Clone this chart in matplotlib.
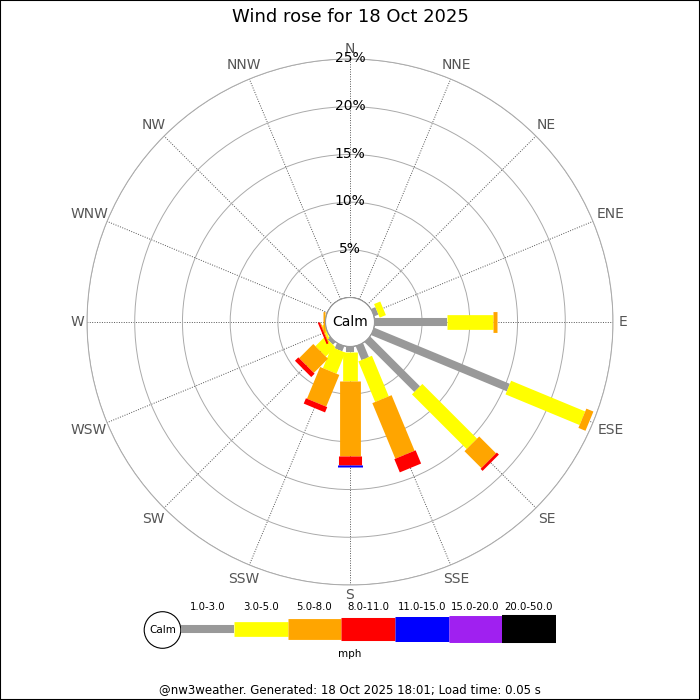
# -*- coding: utf-8 -*-
'''
daily wind rose: stacked speed-class bars per compass direction
'''
import matplotlib
matplotlib.use('Agg')
import matplotlib.pyplot as plt
import numpy as np
from matplotlib.patches import Circle, Rectangle

directions = ['N', 'NNE', 'NE', 'ENE', 'E', 'ESE', 'SE', 'SSE',
              'S', 'SSW', 'SW', 'WSW', 'W', 'WNW', 'NW', 'NNW']
speed_classes = ['1.0-3.0', '3.0-5.0', '5.0-8.0', '8.0-11.0',
                 '11.0-15.0', '15.0-20.0', '20.0-50.0']
class_colors = ['#999999', '#ffff00', '#ffa500', '#ff0000',
                '#0000ff', '#a020f0', '#000000']

# percentage of the day per direction, one list per speed class
pct_1_3 = [0, 0, 0, 0.5, 7.6, 15.4, 7.4, 1.6, 0.6, 0.6, 0.4, 0.1, 0, 0, 0, 0]
pct_3_5 = [0, 0, 0, 0.7, 4.8, 8.4, 8.1, 4.6, 3.0, 2.4, 1.4, 0.2, 0.1, 0, 0, 0]
pct_5_8 = [0, 0, 0, 0, 0.4, 0.8, 2.5, 6.3, 7.9, 3.6, 2.1, 0.1, 0.2, 0, 0, 0]
pct_8_11 = [0, 0, 0, 0, 0, 0, 0.3, 1.5, 0.9, 0.6, 0.5, 0.2, 0, 0, 0, 0]
pct_11_15 = [0, 0, 0, 0, 0, 0, 0, 0, 0.2, 0, 0, 0, 0, 0, 0, 0]
pct_15_20 = [0] * 16
pct_20_50 = [0] * 16
ring_pcts = [5, 10, 15, 20, 25]

title = 'Wind rose for 18 Oct 2025'
footer = '@nw3weather. Generated: 18 Oct 2025 18:01; Load time: 0.05 s'

series = [pct_1_3, pct_3_5, pct_5_8, pct_8_11, pct_11_15, pct_15_20, pct_20_50]
bar_widths = [5.8, 10.6, 15.0, 16.6, 18.0, 19.4, 20.2]   # points

fig = plt.figure(figsize=(7, 7), dpi=100)
fig.patch.set_facecolor('white')

# polar axes: centre at (350, 322) px, outer ring radius 263 px
ax = fig.add_axes([87 / 700, 115 / 700, 526 / 700, 526 / 700], projection='polar')
ax.set_theta_zero_location('N')
ax.set_theta_direction(-1)
ax.set_rlim(0, 25)
ax.set_rorigin(-2.55)
px_per_pct = 526 / 2 / (25 + 2.55)

theta = np.deg2rad(np.arange(16) * 22.5)
ax.set_thetagrids(np.arange(16) * 22.5, labels=[''] * 16)
ax.set_rgrids(ring_pcts, labels=[''] * len(ring_pcts))
ax.xaxis.grid(True, linestyle=(0, (1, 1.5)), color='#555555', linewidth=0.7)
ax.yaxis.grid(True, linestyle='-', color='#aaaaaa', linewidth=0.7)
ax.spines['polar'].set_color('#aaaaaa')
ax.spines['polar'].set_linewidth(0.7)
ax.spines['inner'].set_visible(False)

# stacked bars
cum = np.zeros(16)
for vals, col, lw in zip(series, class_colors, bar_widths):
    vals = np.array(vals, dtype=float)
    for i in range(16):
        if vals[i] > 0:
            ax.plot([theta[i], theta[i]], [cum[i], cum[i] + vals[i]],
                    color=col, linewidth=lw, solid_capstyle='butt', zorder=3)
    cum += vals

# percentage labels along the north line
for r in ring_pcts:
    ax.text(0, r + 0.1, f'{r}%', ha='center', va='center', fontsize=10,
            color='black', zorder=5)

# compass labels, pushed out by half their extent along the spoke
for i, d in enumerate(directions):
    w = 9 * len(d)
    dist = 268 + 0.5 * (w * abs(np.sin(theta[i])) + 10 * abs(np.cos(theta[i])))
    ax.text(theta[i], dist / px_per_pct - 2.55, d, ha='center', va='center',
            fontsize=10, color='#555555', clip_on=False)

# calm circle in the middle
ax.add_artist(Circle((0.5, 0.5), 24.5 / 526, transform=ax.transAxes,
                     facecolor='white', edgecolor='#999999', linewidth=0.8,
                     zorder=6, clip_on=False))
ax.text(0.5, 0.5, 'Calm', transform=ax.transAxes, ha='center', va='center',
        fontsize=10, zorder=7)

fig.text(0.5, 1 - 17 / 700, title, ha='center', va='center', fontsize=13)

# legend strip, drawn in pixel coordinates
lax = fig.add_axes([0, 0, 1, 1])
lax.set_xlim(0, 700)
lax.set_ylim(700, 0)
lax.axis('off')
lax.add_patch(Circle((162.5, 630), 18.3, facecolor='white', edgecolor='black',
                     linewidth=0.8))
lax.text(162.5, 630, 'Calm', ha='center', va='center', fontsize=7.5)
seg = 53.6
x0 = 180.5
for k, (lab, col, lw) in enumerate(zip(speed_classes, class_colors, bar_widths)):
    xs = x0 + k * seg
    lax.plot([xs, xs + seg], [629, 629], color=col, linewidth=lw,
             solid_capstyle='butt')
    lax.text(xs + seg / 2, 607, lab, ha='center', va='center', fontsize=7.3)
lax.text(350, 654, 'mph', ha='center', va='center', fontsize=7.5)

fig.text(0.5, 1 - 690 / 700, footer, ha='center', va='center', fontsize=8.5)

fig.patches.append(Rectangle((0, 0), 1, 1, transform=fig.transFigure,
                             fill=False, edgecolor='black', linewidth=1.5))

fig.savefig('out.png', dpi=100)
